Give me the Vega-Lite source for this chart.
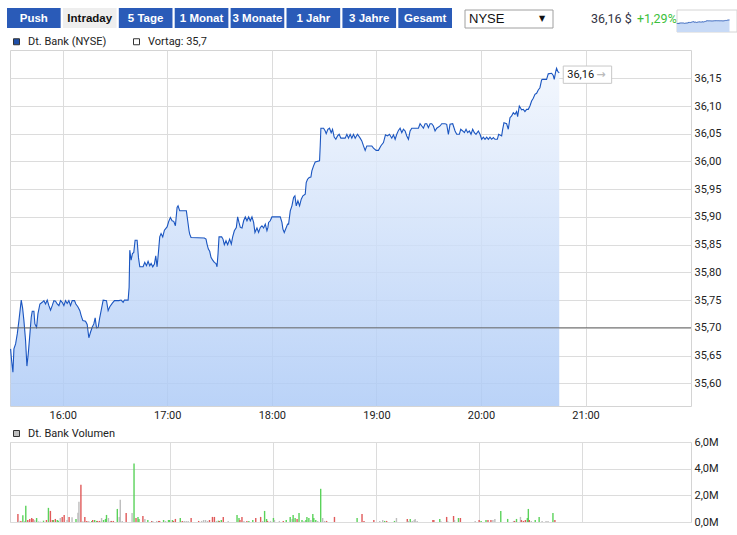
{
  "$schema": "https://vega.github.io/schema/vega-lite/v6.json",
  "background": "white",
  "padding": {"left": 7, "top": 8, "right": 0, "bottom": 0},
  "bounds": "flush",
  "spacing": 22,
  "resolve": {"scale": {"fill": "independent", "color": "independent"}, "legend": {"fill": "independent", "color": "independent"}},
  "datasets": {
    "buttons": [
      {"label": "Push", "state": "off"},
      {"label": "Intraday", "state": "on"},
      {"label": "5 Tage", "state": "off"},
      {"label": "1 Monat", "state": "off"},
      {"label": "3 Monate", "state": "off"},
      {"label": "1 Jahr", "state": "off"},
      {"label": "3 Jahre", "state": "off"},
      {"label": "Gesamt", "state": "off"}
    ],
    "last": [{"t": "2013-05-16T20:44:54", "p": 36.16, "label": "36,16"}],
    "price": [
      {"t":"2013-05-16T15:30:06","p":35.662},{"t":"2013-05-16T15:30:40","p":35.641},{"t":"2013-05-16T15:31:26","p":35.620},{"t":"2013-05-16T15:32:00","p":35.662},{"t":"2013-05-16T15:32:58","p":35.671},{"t":"2013-05-16T15:33:55","p":35.689},{"t":"2013-05-16T15:34:52","p":35.713},{"t":"2013-05-16T15:36:12","p":35.750},{"t":"2013-05-16T15:36:58","p":35.736},{"t":"2013-05-16T15:37:44","p":35.713},{"t":"2013-05-16T15:38:41","p":35.677},{"t":"2013-05-16T15:39:27","p":35.631},{"t":"2013-05-16T15:40:13","p":35.653},{"t":"2013-05-16T15:41:10","p":35.689},{"t":"2013-05-16T15:41:56","p":35.719},{"t":"2013-05-16T15:42:31","p":35.730},{"t":"2013-05-16T15:43:28","p":35.730},{"t":"2013-05-16T15:44:02","p":35.707},{"t":"2013-05-16T15:45:00","p":35.701},{"t":"2013-05-16T15:45:46","p":35.725},{"t":"2013-05-16T15:46:55","p":35.743},{"t":"2013-05-16T15:48:14","p":35.746},{"t":"2013-05-16T15:49:12","p":35.749},{"t":"2013-05-16T15:50:09","p":35.743},{"t":"2013-05-16T15:51:07","p":35.750},{"t":"2013-05-16T15:52:04","p":35.740},{"t":"2013-05-16T15:53:01","p":35.732},{"t":"2013-05-16T15:53:58","p":35.740},{"t":"2013-05-16T15:54:56","p":35.749},{"t":"2013-05-16T15:55:53","p":35.748},{"t":"2013-05-16T15:56:50","p":35.743},{"t":"2013-05-16T15:57:48","p":35.740},{"t":"2013-05-16T15:58:45","p":35.749},{"t":"2013-05-16T15:59:42","p":35.746},{"t":"2013-05-16T16:00:40","p":35.740},{"t":"2013-05-16T16:01:37","p":35.749},{"t":"2013-05-16T16:02:34","p":35.744},{"t":"2013-05-16T16:03:31","p":35.749},{"t":"2013-05-16T16:04:29","p":35.740},{"t":"2013-05-16T16:05:26","p":35.749},{"t":"2013-05-16T16:06:46","p":35.749},{"t":"2013-05-16T16:07:32","p":35.743},{"t":"2013-05-16T16:08:41","p":35.738},{"t":"2013-05-16T16:09:50","p":35.731},{"t":"2013-05-16T16:10:35","p":35.722},{"t":"2013-05-16T16:11:33","p":35.713},{"t":"2013-05-16T16:13:05","p":35.712},{"t":"2013-05-16T16:14:02","p":35.706},{"t":"2013-05-16T16:14:59","p":35.682},{"t":"2013-05-16T16:15:56","p":35.692},{"t":"2013-05-16T16:16:54","p":35.701},{"t":"2013-05-16T16:17:51","p":35.707},{"t":"2013-05-16T16:18:37","p":35.718},{"t":"2013-05-16T16:19:23","p":35.700},{"t":"2013-05-16T16:20:20","p":35.701},{"t":"2013-05-16T16:21:17","p":35.719},{"t":"2013-05-16T16:22:14","p":35.734},{"t":"2013-05-16T16:23:12","p":35.750},{"t":"2013-05-16T16:25:07","p":35.749},{"t":"2013-05-16T16:26:04","p":35.731},{"t":"2013-05-16T16:27:01","p":35.738},{"t":"2013-05-16T16:28:22","p":35.744},{"t":"2013-05-16T16:29:41","p":35.749},{"t":"2013-05-16T16:32:11","p":35.749},{"t":"2013-05-16T16:33:31","p":35.750},{"t":"2013-05-16T16:34:40","p":35.746},{"t":"2013-05-16T16:35:25","p":35.750},{"t":"2013-05-16T16:37:32","p":35.750},{"t":"2013-05-16T16:38:06","p":35.773},{"t":"2013-05-16T16:38:29","p":35.840},{"t":"2013-05-16T16:39:15","p":35.822},{"t":"2013-05-16T16:40:01","p":35.834},{"t":"2013-05-16T16:40:46","p":35.836},{"t":"2013-05-16T16:41:32","p":35.858},{"t":"2013-05-16T16:42:41","p":35.858},{"t":"2013-05-16T16:43:27","p":35.827},{"t":"2013-05-16T16:44:13","p":35.810},{"t":"2013-05-16T16:46:07","p":35.810},{"t":"2013-05-16T16:47:05","p":35.818},{"t":"2013-05-16T16:48:02","p":35.812},{"t":"2013-05-16T16:48:59","p":35.820},{"t":"2013-05-16T16:49:56","p":35.812},{"t":"2013-05-16T16:50:43","p":35.816},{"t":"2013-05-16T16:51:40","p":35.810},{"t":"2013-05-16T16:52:37","p":35.815},{"t":"2013-05-16T16:53:23","p":35.830},{"t":"2013-05-16T16:54:09","p":35.810},{"t":"2013-05-16T16:54:55","p":35.836},{"t":"2013-05-16T16:55:40","p":35.864},{"t":"2013-05-16T16:56:26","p":35.870},{"t":"2013-05-16T16:57:23","p":35.864},{"t":"2013-05-16T16:58:21","p":35.876},{"t":"2013-05-16T16:59:53","p":35.882},{"t":"2013-05-16T17:00:50","p":35.892},{"t":"2013-05-16T17:01:47","p":35.899},{"t":"2013-05-16T17:02:45","p":35.893},{"t":"2013-05-16T17:03:42","p":35.892},{"t":"2013-05-16T17:04:39","p":35.884},{"t":"2013-05-16T17:05:37","p":35.917},{"t":"2013-05-16T17:06:11","p":35.920},{"t":"2013-05-16T17:07:08","p":35.911},{"t":"2013-05-16T17:10:57","p":35.911},{"t":"2013-05-16T17:11:43","p":35.893},{"t":"2013-05-16T17:12:29","p":35.875},{"t":"2013-05-16T17:12:52","p":35.869},{"t":"2013-05-16T17:13:38","p":35.863},{"t":"2013-05-16T17:21:16","p":35.862},{"t":"2013-05-16T17:22:13","p":35.860},{"t":"2013-05-16T17:22:48","p":35.851},{"t":"2013-05-16T17:23:34","p":35.842},{"t":"2013-05-16T17:24:20","p":35.838},{"t":"2013-05-16T17:25:05","p":35.827},{"t":"2013-05-16T17:26:03","p":35.822},{"t":"2013-05-16T17:27:00","p":35.818},{"t":"2013-05-16T17:27:58","p":35.816},{"t":"2013-05-16T17:28:32","p":35.810},{"t":"2013-05-16T17:29:06","p":35.833},{"t":"2013-05-16T17:29:41","p":35.864},{"t":"2013-05-16T17:31:12","p":35.864},{"t":"2013-05-16T17:31:58","p":35.860},{"t":"2013-05-16T17:32:44","p":35.850},{"t":"2013-05-16T17:33:41","p":35.857},{"t":"2013-05-16T17:34:38","p":35.850},{"t":"2013-05-16T17:35:47","p":35.860},{"t":"2013-05-16T17:36:44","p":35.851},{"t":"2013-05-16T17:37:31","p":35.864},{"t":"2013-05-16T17:38:28","p":35.875},{"t":"2013-05-16T17:39:37","p":35.881},{"t":"2013-05-16T17:40:22","p":35.900},{"t":"2013-05-16T17:41:08","p":35.890},{"t":"2013-05-16T17:41:54","p":35.881},{"t":"2013-05-16T17:42:52","p":35.880},{"t":"2013-05-16T17:43:49","p":35.893},{"t":"2013-05-16T17:44:46","p":35.900},{"t":"2013-05-16T17:45:43","p":35.893},{"t":"2013-05-16T17:46:41","p":35.900},{"t":"2013-05-16T17:47:38","p":35.893},{"t":"2013-05-16T17:48:35","p":35.900},{"t":"2013-05-16T17:49:32","p":35.890},{"t":"2013-05-16T17:50:18","p":35.872},{"t":"2013-05-16T17:51:27","p":35.880},{"t":"2013-05-16T17:52:24","p":35.872},{"t":"2013-05-16T17:53:22","p":35.881},{"t":"2013-05-16T17:54:19","p":35.884},{"t":"2013-05-16T17:55:16","p":35.880},{"t":"2013-05-16T17:56:14","p":35.887},{"t":"2013-05-16T17:57:11","p":35.875},{"t":"2013-05-16T17:57:45","p":35.881},{"t":"2013-05-16T17:58:08","p":35.890},{"t":"2013-05-16T17:59:05","p":35.893},{"t":"2013-05-16T18:00:03","p":35.900},{"t":"2013-05-16T18:04:49","p":35.900},{"t":"2013-05-16T18:05:47","p":35.890},{"t":"2013-05-16T18:06:21","p":35.878},{"t":"2013-05-16T18:07:07","p":35.872},{"t":"2013-05-16T18:08:16","p":35.881},{"t":"2013-05-16T18:09:02","p":35.887},{"t":"2013-05-16T18:09:36","p":35.887},{"t":"2013-05-16T18:10:34","p":35.911},{"t":"2013-05-16T18:11:31","p":35.920},{"t":"2013-05-16T18:12:28","p":35.935},{"t":"2013-05-16T18:13:14","p":35.938},{"t":"2013-05-16T18:14:00","p":35.920},{"t":"2013-05-16T18:14:57","p":35.929},{"t":"2013-05-16T18:15:54","p":35.920},{"t":"2013-05-16T18:16:52","p":35.932},{"t":"2013-05-16T18:17:49","p":35.938},{"t":"2013-05-16T18:19:09","p":35.941},{"t":"2013-05-16T18:19:43","p":35.962},{"t":"2013-05-16T18:20:29","p":35.968},{"t":"2013-05-16T18:21:26","p":35.971},{"t":"2013-05-16T18:22:24","p":35.972},{"t":"2013-05-16T18:22:58","p":35.983},{"t":"2013-05-16T18:23:56","p":35.992},{"t":"2013-05-16T18:24:53","p":35.999},{"t":"2013-05-16T18:27:22","p":36.001},{"t":"2013-05-16T18:27:45","p":36.028},{"t":"2013-05-16T18:28:08","p":36.060},{"t":"2013-05-16T18:29:40","p":36.060},{"t":"2013-05-16T18:30:37","p":36.055},{"t":"2013-05-16T18:31:11","p":36.050},{"t":"2013-05-16T18:32:08","p":36.058},{"t":"2013-05-16T18:33:05","p":36.060},{"t":"2013-05-16T18:34:03","p":36.052},{"t":"2013-05-16T18:34:49","p":36.058},{"t":"2013-05-16T18:35:46","p":36.044},{"t":"2013-05-16T18:36:43","p":36.040},{"t":"2013-05-16T18:37:41","p":36.046},{"t":"2013-05-16T18:38:38","p":36.049},{"t":"2013-05-16T18:39:35","p":36.042},{"t":"2013-05-16T18:42:04","p":36.042},{"t":"2013-05-16T18:43:02","p":36.049},{"t":"2013-05-16T18:43:59","p":36.042},{"t":"2013-05-16T18:44:56","p":36.049},{"t":"2013-05-16T18:45:53","p":36.042},{"t":"2013-05-16T18:46:51","p":36.049},{"t":"2013-05-16T18:47:48","p":36.042},{"t":"2013-05-16T18:49:08","p":36.049},{"t":"2013-05-16T18:50:40","p":36.042},{"t":"2013-05-16T18:51:37","p":36.037},{"t":"2013-05-16T18:52:35","p":36.028},{"t":"2013-05-16T18:53:32","p":36.020},{"t":"2013-05-16T18:54:29","p":36.028},{"t":"2013-05-16T18:57:21","p":36.028},{"t":"2013-05-16T18:58:19","p":36.024},{"t":"2013-05-16T18:59:50","p":36.020},{"t":"2013-05-16T19:01:10","p":36.020},{"t":"2013-05-16T19:02:31","p":36.028},{"t":"2013-05-16T19:04:02","p":36.034},{"t":"2013-05-16T19:05:11","p":36.048},{"t":"2013-05-16T19:06:20","p":36.046},{"t":"2013-05-16T19:07:29","p":36.049},{"t":"2013-05-16T19:08:49","p":36.042},{"t":"2013-05-16T19:09:46","p":36.048},{"t":"2013-05-16T19:10:44","p":36.040},{"t":"2013-05-16T19:11:41","p":36.049},{"t":"2013-05-16T19:12:38","p":36.056},{"t":"2013-05-16T19:13:35","p":36.060},{"t":"2013-05-16T19:14:33","p":36.052},{"t":"2013-05-16T19:15:30","p":36.058},{"t":"2013-05-16T19:16:28","p":36.055},{"t":"2013-05-16T19:17:25","p":36.046},{"t":"2013-05-16T19:18:22","p":36.040},{"t":"2013-05-16T19:19:19","p":36.055},{"t":"2013-05-16T19:20:17","p":36.060},{"t":"2013-05-16T19:24:06","p":36.060},{"t":"2013-05-16T19:25:03","p":36.068},{"t":"2013-05-16T19:26:01","p":36.064},{"t":"2013-05-16T19:26:58","p":36.060},{"t":"2013-05-16T19:27:55","p":36.068},{"t":"2013-05-16T19:28:52","p":36.068},{"t":"2013-05-16T19:29:50","p":36.061},{"t":"2013-05-16T19:30:47","p":36.068},{"t":"2013-05-16T19:31:44","p":36.068},{"t":"2013-05-16T19:32:41","p":36.064},{"t":"2013-05-16T19:33:39","p":36.055},{"t":"2013-05-16T19:34:36","p":36.060},{"t":"2013-05-16T19:36:31","p":36.064},{"t":"2013-05-16T19:37:28","p":36.068},{"t":"2013-05-16T19:39:23","p":36.068},{"t":"2013-05-16T19:40:20","p":36.067},{"t":"2013-05-16T19:41:17","p":36.049},{"t":"2013-05-16T19:42:14","p":36.067},{"t":"2013-05-16T19:43:46","p":36.068},{"t":"2013-05-16T19:45:07","p":36.055},{"t":"2013-05-16T19:46:04","p":36.049},{"t":"2013-05-16T19:47:35","p":36.049},{"t":"2013-05-16T19:48:22","p":36.058},{"t":"2013-05-16T19:49:30","p":36.055},{"t":"2013-05-16T19:50:28","p":36.052},{"t":"2013-05-16T19:51:25","p":36.058},{"t":"2013-05-16T19:52:22","p":36.052},{"t":"2013-05-16T19:53:19","p":36.055},{"t":"2013-05-16T19:54:17","p":36.049},{"t":"2013-05-16T19:55:14","p":36.058},{"t":"2013-05-16T19:56:11","p":36.052},{"t":"2013-05-16T19:57:08","p":36.049},{"t":"2013-05-16T19:58:29","p":36.055},{"t":"2013-05-16T19:59:26","p":36.049},{"t":"2013-05-16T20:00:23","p":36.040},{"t":"2013-05-16T20:01:21","p":36.044},{"t":"2013-05-16T20:02:18","p":36.040},{"t":"2013-05-16T20:03:16","p":36.044},{"t":"2013-05-16T20:04:13","p":36.040},{"t":"2013-05-16T20:05:10","p":36.044},{"t":"2013-05-16T20:06:07","p":36.040},{"t":"2013-05-16T20:07:05","p":36.043},{"t":"2013-05-16T20:08:02","p":36.040},{"t":"2013-05-16T20:09:22","p":36.040},{"t":"2013-05-16T20:10:08","p":36.049},{"t":"2013-05-16T20:11:51","p":36.046},{"t":"2013-05-16T20:12:26","p":36.058},{"t":"2013-05-16T20:13:11","p":36.070},{"t":"2013-05-16T20:14:43","p":36.068},{"t":"2013-05-16T20:15:40","p":36.058},{"t":"2013-05-16T20:16:38","p":36.079},{"t":"2013-05-16T20:17:35","p":36.082},{"t":"2013-05-16T20:18:32","p":36.088},{"t":"2013-05-16T20:19:29","p":36.085},{"t":"2013-05-16T20:20:27","p":36.090},{"t":"2013-05-16T20:21:01","p":36.081},{"t":"2013-05-16T20:21:59","p":36.100},{"t":"2013-05-16T20:23:19","p":36.093},{"t":"2013-05-16T20:24:16","p":36.094},{"t":"2013-05-16T20:25:13","p":36.090},{"t":"2013-05-16T20:26:11","p":36.094},{"t":"2013-05-16T20:27:08","p":36.094},{"t":"2013-05-16T20:28:05","p":36.100},{"t":"2013-05-16T20:29:02","p":36.109},{"t":"2013-05-16T20:30:00","p":36.114},{"t":"2013-05-16T20:30:58","p":36.121},{"t":"2013-05-16T20:31:55","p":36.123},{"t":"2013-05-16T20:32:52","p":36.129},{"t":"2013-05-16T20:33:49","p":36.133},{"t":"2013-05-16T20:34:47","p":36.147},{"t":"2013-05-16T20:35:21","p":36.148},{"t":"2013-05-16T20:37:38","p":36.148},{"t":"2013-05-16T20:38:36","p":36.158},{"t":"2013-05-16T20:40:31","p":36.159},{"t":"2013-05-16T20:41:28","p":36.155},{"t":"2013-05-16T20:42:02","p":36.148},{"t":"2013-05-16T20:42:48","p":36.161},{"t":"2013-05-16T20:43:22","p":36.168},{"t":"2013-05-16T20:44:08","p":36.162},{"t":"2013-05-16T20:44:54","p":36.160}
    ],
    "volume": [
      {"t":"2013-05-16T15:31:27","vol":0.60,"dir":"down"},{"t":"2013-05-16T15:32:01","vol":0.10,"dir":"flat"},{"t":"2013-05-16T15:33:10","vol":0.08,"dir":"down"},{"t":"2013-05-16T15:34:19","vol":0.50,"dir":"up"},{"t":"2013-05-16T15:35:28","vol":0.08,"dir":"flat"},{"t":"2013-05-16T15:36:02","vol":1.21,"dir":"up"},{"t":"2013-05-16T15:37:11","vol":0.15,"dir":"down"},{"t":"2013-05-16T15:38:20","vol":0.23,"dir":"down"},{"t":"2013-05-16T15:39:28","vol":0.30,"dir":"down"},{"t":"2013-05-16T15:40:14","vol":0.23,"dir":"down"},{"t":"2013-05-16T15:41:12","vol":0.13,"dir":"flat"},{"t":"2013-05-16T15:42:20","vol":0.30,"dir":"up"},{"t":"2013-05-16T15:43:29","vol":0.05,"dir":"flat"},{"t":"2013-05-16T15:44:38","vol":0.03,"dir":"flat"},{"t":"2013-05-16T15:46:21","vol":0.10,"dir":"up"},{"t":"2013-05-16T15:48:04","vol":0.15,"dir":"down"},{"t":"2013-05-16T15:49:13","vol":1.06,"dir":"up"},{"t":"2013-05-16T15:50:22","vol":0.83,"dir":"down"},{"t":"2013-05-16T15:51:31","vol":0.15,"dir":"down"},{"t":"2013-05-16T15:52:05","vol":0.15,"dir":"up"},{"t":"2013-05-16T15:53:14","vol":0.23,"dir":"down"},{"t":"2013-05-16T15:54:22","vol":0.15,"dir":"up"},{"t":"2013-05-16T15:54:57","vol":0.10,"dir":"up"},{"t":"2013-05-16T15:56:06","vol":0.30,"dir":"flat"},{"t":"2013-05-16T15:57:14","vol":0.38,"dir":"down"},{"t":"2013-05-16T15:58:23","vol":0.53,"dir":"down"},{"t":"2013-05-16T16:00:06","vol":0.15,"dir":"flat"},{"t":"2013-05-16T16:01:15","vol":0.38,"dir":"down"},{"t":"2013-05-16T16:02:58","vol":0.35,"dir":"flat"},{"t":"2013-05-16T16:05:16","vol":0.23,"dir":"up"},{"t":"2013-05-16T16:06:25","vol":0.70,"dir":"flat"},{"t":"2013-05-16T16:06:59","vol":1.51,"dir":"flat"},{"t":"2013-05-16T16:08:08","vol":2.80,"dir":"down"},{"t":"2013-05-16T16:09:16","vol":0.05,"dir":"flat"},{"t":"2013-05-16T16:10:25","vol":0.38,"dir":"down"},{"t":"2013-05-16T16:11:34","vol":0.08,"dir":"down"},{"t":"2013-05-16T16:12:43","vol":0.08,"dir":"flat"},{"t":"2013-05-16T16:14:26","vol":0.08,"dir":"up"},{"t":"2013-05-16T16:15:00","vol":0.15,"dir":"down"},{"t":"2013-05-16T16:16:09","vol":0.15,"dir":"up"},{"t":"2013-05-16T16:17:18","vol":0.08,"dir":"up"},{"t":"2013-05-16T16:17:52","vol":0.08,"dir":"down"},{"t":"2013-05-16T16:19:01","vol":0.08,"dir":"down"},{"t":"2013-05-16T16:20:10","vol":0.30,"dir":"flat"},{"t":"2013-05-16T16:21:19","vol":0.15,"dir":"up"},{"t":"2013-05-16T16:22:27","vol":0.23,"dir":"up"},{"t":"2013-05-16T16:23:02","vol":0.53,"dir":"up"},{"t":"2013-05-16T16:24:10","vol":0.30,"dir":"flat"},{"t":"2013-05-16T16:25:19","vol":0.08,"dir":"flat"},{"t":"2013-05-16T16:25:54","vol":0.08,"dir":"down"},{"t":"2013-05-16T16:27:02","vol":0.08,"dir":"down"},{"t":"2013-05-16T16:29:20","vol":0.98,"dir":"up"},{"t":"2013-05-16T16:30:29","vol":0.38,"dir":"flat"},{"t":"2013-05-16T16:31:03","vol":1.66,"dir":"flat"},{"t":"2013-05-16T16:32:12","vol":0.08,"dir":"flat"},{"t":"2013-05-16T16:34:29","vol":0.68,"dir":"down"},{"t":"2013-05-16T16:37:56","vol":0.68,"dir":"flat"},{"t":"2013-05-16T16:39:04","vol":4.38,"dir":"up"},{"t":"2013-05-16T16:40:13","vol":0.30,"dir":"down"},{"t":"2013-05-16T16:41:22","vol":0.38,"dir":"up"},{"t":"2013-05-16T16:41:56","vol":0.23,"dir":"up"},{"t":"2013-05-16T16:44:14","vol":0.45,"dir":"down"},{"t":"2013-05-16T16:45:23","vol":0.23,"dir":"flat"},{"t":"2013-05-16T16:47:06","vol":0.15,"dir":"up"},{"t":"2013-05-16T16:49:23","vol":0.08,"dir":"down"},{"t":"2013-05-16T16:49:58","vol":0.08,"dir":"flat"},{"t":"2013-05-16T16:52:15","vol":0.08,"dir":"flat"},{"t":"2013-05-16T16:53:24","vol":0.08,"dir":"down"},{"t":"2013-05-16T16:53:58","vol":0.08,"dir":"down"},{"t":"2013-05-16T16:56:16","vol":0.15,"dir":"up"},{"t":"2013-05-16T16:57:25","vol":0.08,"dir":"flat"},{"t":"2013-05-16T16:59:08","vol":0.15,"dir":"up"},{"t":"2013-05-16T16:59:42","vol":0.15,"dir":"up"},{"t":"2013-05-16T17:01:25","vol":0.15,"dir":"up"},{"t":"2013-05-16T17:02:00","vol":0.08,"dir":"down"},{"t":"2013-05-16T17:03:09","vol":0.23,"dir":"down"},{"t":"2013-05-16T17:06:00","vol":0.30,"dir":"up"},{"t":"2013-05-16T17:07:09","vol":0.08,"dir":"down"},{"t":"2013-05-16T17:08:18","vol":0.08,"dir":"flat"},{"t":"2013-05-16T17:09:27","vol":0.08,"dir":"flat"},{"t":"2013-05-16T17:10:36","vol":0.08,"dir":"flat"},{"t":"2013-05-16T17:12:19","vol":0.30,"dir":"down"},
      {"t":"2013-05-16T17:16:42","vol":0.08,"dir":"down"},{"t":"2013-05-16T17:18:25","vol":0.08,"dir":"flat"},{"t":"2013-05-16T17:19:34","vol":0.15,"dir":"flat"},{"t":"2013-05-16T17:20:43","vol":0.15,"dir":"flat"},{"t":"2013-05-16T17:21:52","vol":0.08,"dir":"flat"},{"t":"2013-05-16T17:23:00","vol":0.15,"dir":"down"},{"t":"2013-05-16T17:24:44","vol":0.38,"dir":"down"},{"t":"2013-05-16T17:25:52","vol":0.38,"dir":"down"},{"t":"2013-05-16T17:27:01","vol":0.08,"dir":"flat"},{"t":"2013-05-16T17:28:10","vol":0.10,"dir":"up"},{"t":"2013-05-16T17:28:44","vol":0.08,"dir":"down"},{"t":"2013-05-16T17:29:53","vol":0.15,"dir":"up"},{"t":"2013-05-16T17:31:02","vol":0.38,"dir":"down"},{"t":"2013-05-16T17:33:54","vol":0.08,"dir":"flat"},{"t":"2013-05-16T17:39:03","vol":0.53,"dir":"up"},{"t":"2013-05-16T17:40:12","vol":0.30,"dir":"up"},{"t":"2013-05-16T17:40:46","vol":0.15,"dir":"down"},{"t":"2013-05-16T17:41:55","vol":0.38,"dir":"down"},{"t":"2013-05-16T17:43:04","vol":0.08,"dir":"flat"},{"t":"2013-05-16T17:44:47","vol":0.08,"dir":"down"},{"t":"2013-05-16T17:45:56","vol":0.08,"dir":"up"},{"t":"2013-05-16T17:48:13","vol":0.15,"dir":"up"},{"t":"2013-05-16T17:49:57","vol":0.30,"dir":"down"},{"t":"2013-05-16T17:52:48","vol":0.38,"dir":"down"},{"t":"2013-05-16T17:53:57","vol":0.08,"dir":"flat"},{"t":"2013-05-16T17:55:06","vol":0.83,"dir":"up"},{"t":"2013-05-16T17:56:15","vol":0.23,"dir":"up"},{"t":"2013-05-16T17:56:49","vol":0.08,"dir":"down"},{"t":"2013-05-16T17:58:32","vol":0.08,"dir":"flat"},{"t":"2013-05-16T18:00:15","vol":0.30,"dir":"up"},{"t":"2013-05-16T18:00:50","vol":0.15,"dir":"flat"},{"t":"2013-05-16T18:03:42","vol":0.08,"dir":"flat"},{"t":"2013-05-16T18:05:59","vol":0.08,"dir":"down"},{"t":"2013-05-16T18:07:42","vol":0.15,"dir":"up"},{"t":"2013-05-16T18:10:00","vol":0.38,"dir":"up"},{"t":"2013-05-16T18:11:09","vol":0.23,"dir":"flat"},{"t":"2013-05-16T18:11:43","vol":0.53,"dir":"up"},{"t":"2013-05-16T18:12:52","vol":0.30,"dir":"up"},{"t":"2013-05-16T18:14:01","vol":0.23,"dir":"down"},{"t":"2013-05-16T18:15:09","vol":0.68,"dir":"up"},{"t":"2013-05-16T18:16:53","vol":0.15,"dir":"up"},{"t":"2013-05-16T18:18:01","vol":0.08,"dir":"flat"},{"t":"2013-05-16T18:19:10","vol":0.15,"dir":"up"},{"t":"2013-05-16T18:19:45","vol":0.38,"dir":"up"},{"t":"2013-05-16T18:20:53","vol":0.30,"dir":"up"},{"t":"2013-05-16T18:22:02","vol":0.15,"dir":"flat"},{"t":"2013-05-16T18:23:11","vol":0.60,"dir":"up"},{"t":"2013-05-16T18:23:45","vol":0.30,"dir":"up"},{"t":"2013-05-16T18:24:54","vol":0.15,"dir":"up"},{"t":"2013-05-16T18:26:03","vol":0.08,"dir":"flat"},{"t":"2013-05-16T18:27:46","vol":2.49,"dir":"up"},{"t":"2013-05-16T18:28:55","vol":0.30,"dir":"flat"},{"t":"2013-05-16T18:30:03","vol":0.08,"dir":"flat"},{"t":"2013-05-16T18:31:12","vol":0.08,"dir":"down"},{"t":"2013-05-16T18:35:47","vol":0.38,"dir":"down"},{"t":"2013-05-16T18:48:58","vol":0.30,"dir":"up"},{"t":"2013-05-16T18:51:50","vol":0.60,"dir":"down"},{"t":"2013-05-16T18:52:59","vol":0.08,"dir":"down"},{"t":"2013-05-16T18:58:43","vol":0.15,"dir":"down"},{"t":"2013-05-16T19:02:09","vol":0.08,"dir":"flat"},
      {"t":"2013-05-16T19:03:52","vol":0.15,"dir":"flat"},{"t":"2013-05-16T19:05:01","vol":0.08,"dir":"up"},{"t":"2013-05-16T19:06:10","vol":0.08,"dir":"down"},{"t":"2013-05-16T19:10:45","vol":0.08,"dir":"up"},{"t":"2013-05-16T19:11:53","vol":0.30,"dir":"flat"},{"t":"2013-05-16T19:18:12","vol":0.23,"dir":"down"},{"t":"2013-05-16T19:18:46","vol":0.08,"dir":"flat"},{"t":"2013-05-16T19:19:55","vol":0.23,"dir":"up"},{"t":"2013-05-16T19:21:04","vol":0.08,"dir":"flat"},{"t":"2013-05-16T19:22:12","vol":0.15,"dir":"flat"},{"t":"2013-05-16T19:22:47","vol":0.23,"dir":"flat"},{"t":"2013-05-16T19:23:56","vol":0.08,"dir":"flat"},{"t":"2013-05-16T19:33:06","vol":0.15,"dir":"down"},{"t":"2013-05-16T19:33:40","vol":0.15,"dir":"down"},{"t":"2013-05-16T19:37:06","vol":0.23,"dir":"up"},{"t":"2013-05-16T19:37:41","vol":0.08,"dir":"flat"},{"t":"2013-05-16T19:41:07","vol":0.38,"dir":"down"},{"t":"2013-05-16T19:41:41","vol":0.08,"dir":"flat"},{"t":"2013-05-16T19:45:08","vol":0.45,"dir":"down"},{"t":"2013-05-16T19:45:42","vol":0.15,"dir":"flat"},{"t":"2013-05-16T19:48:00","vol":0.30,"dir":"up"},{"t":"2013-05-16T19:49:08","vol":0.30,"dir":"down"},{"t":"2013-05-16T19:57:44","vol":0.08,"dir":"flat"},{"t":"2013-05-16T20:00:02","vol":0.15,"dir":"down"},{"t":"2013-05-16T20:01:11","vol":0.08,"dir":"up"},{"t":"2013-05-16T20:04:02","vol":0.15,"dir":"up"},{"t":"2013-05-16T20:05:11","vol":0.15,"dir":"down"},{"t":"2013-05-16T20:06:54","vol":0.15,"dir":"down"},{"t":"2013-05-16T20:08:03","vol":0.15,"dir":"flat"},{"t":"2013-05-16T20:09:12","vol":0.23,"dir":"flat"},{"t":"2013-05-16T20:12:38","vol":0.83,"dir":"up"},{"t":"2013-05-16T20:16:39","vol":0.23,"dir":"up"},{"t":"2013-05-16T20:20:05","vol":0.08,"dir":"flat"},{"t":"2013-05-16T20:20:40","vol":0.08,"dir":"down"},{"t":"2013-05-16T20:21:48","vol":0.23,"dir":"up"},{"t":"2013-05-16T20:24:06","vol":0.38,"dir":"flat"},{"t":"2013-05-16T20:24:40","vol":0.15,"dir":"down"},{"t":"2013-05-16T20:25:49","vol":0.08,"dir":"down"},{"t":"2013-05-16T20:26:58","vol":0.15,"dir":"down"},{"t":"2013-05-16T20:28:07","vol":0.30,"dir":"up"},{"t":"2013-05-16T20:28:41","vol":0.98,"dir":"up"},{"t":"2013-05-16T20:29:15","vol":0.15,"dir":"down"},{"t":"2013-05-16T20:30:24","vol":0.08,"dir":"flat"},{"t":"2013-05-16T20:32:42","vol":0.15,"dir":"up"},{"t":"2013-05-16T20:34:59","vol":0.38,"dir":"up"},{"t":"2013-05-16T20:36:42","vol":0.08,"dir":"flat"},{"t":"2013-05-16T20:39:00","vol":0.08,"dir":"flat"},{"t":"2013-05-16T20:40:09","vol":0.08,"dir":"flat"},{"t":"2013-05-16T20:43:01","vol":0.68,"dir":"up"},{"t":"2013-05-16T20:44:09","vol":0.15,"dir":"down"}
    ]
  },
  "vconcat": [
    {
      "width": 681,
      "height": 20,
      "view": {"stroke": null},
      "resolve": {"scale": {"x": "independent", "y": "independent"}},
      "layer": [
        {
          "data": {"name": "buttons"},
          "encoding": {
            "x": {"field": "label", "type": "nominal", "sort": null, "axis": null,
                  "scale": {"range": [-3, 442], "paddingInner": 0.04, "paddingOuter": 0}}
          },
          "layer": [
            {"mark": {"type": "bar"},
             "encoding": {"color": {"condition": {"test": "datum.state === 'on'", "value": "#eeeeee"}, "value": "#2a5bb8"}}},
            {"mark": {"type": "text", "font": "Liberation Sans", "fontWeight": "bold", "fontSize": 11.5, "dy": 0.5},
             "encoding": {"text": {"field": "label"},
                          "color": {"condition": {"test": "datum.state === 'on'", "value": "#111111"}, "value": "#ffffff"}}}
          ]
        },
        {
          "data": {"values": [{"exchange": "NYSE"}]},
          "encoding": {
            "x": {"field": "exchange", "type": "nominal", "axis": null,
                  "scale": {"range": [455, 543], "paddingInner": 0, "paddingOuter": 0}}
          },
          "layer": [
            {"mark": {"type": "bar", "fill": "#ffffff", "stroke": "#a0a0a0", "strokeWidth": 1},
             "encoding": {"y": {"field": "exchange", "type": "nominal", "axis": null,
                                "scale": {"range": [2, 20], "paddingInner": 0, "paddingOuter": 0}}}},
            {"mark": {"type": "text", "align": "left", "dx": 4, "dy": 1, "font": "Liberation Sans", "fontSize": 13, "color": "#111111"},
             "encoding": {"x": {"field": "exchange", "type": "nominal", "bandPosition": 0, "axis": null},
                          "text": {"field": "exchange"}}},
            {"mark": {"type": "text", "align": "center", "dx": -11, "dy": 1, "font": "DejaVu Sans", "fontSize": 8, "color": "#111111", "text": "▼"},
             "encoding": {"x": {"field": "exchange", "type": "nominal", "bandPosition": 1, "axis": null}}}
          ]
        },
        {
          "data": {"values": [{"kind": "last", "txt": "36,16 $"}, {"kind": "change", "txt": "+1,29%"}]},
          "mark": {"type": "text", "align": "left", "font": "Roboto", "fontSize": 12.5, "dy": 1},
          "encoding": {
            "x": {"field": "kind", "type": "nominal", "sort": null, "bandPosition": 0, "axis": null,
                  "scale": {"range": [558, 650], "paddingInner": 0, "paddingOuter": 0}},
            "text": {"field": "txt"},
            "color": {"condition": {"test": "datum.kind === 'change'", "value": "#3cbf3c"}, "value": "#333344"}
          }
        },
        {
          "data": {"values": [{"box": "mini"}]},
          "mark": {"type": "bar", "fill": "#ffffff", "stroke": "#d4d4d4", "strokeWidth": 1},
          "encoding": {
            "x": {"field": "box", "type": "nominal", "axis": null,
                  "scale": {"range": [667, 727], "paddingInner": 0, "paddingOuter": 0}},
            "y": {"field": "box", "type": "nominal", "axis": null,
                  "scale": {"range": [2, 24], "paddingInner": 0, "paddingOuter": 0}}
          }
        },
        {
          "data": {"name": "price"},
          "encoding": {
            "x": {"field": "t", "type": "temporal", "axis": null,
                  "scale": {"domain": [{"year": 2013, "month": 5, "date": 16, "hours": 15, "minutes": 30},
                                       {"year": 2013, "month": 5, "date": 16, "hours": 21, "minutes": 30}],
                            "range": [667, 727]}},
            "y": {"field": "p", "type": "quantitative", "axis": null,
                  "scale": {"domain": [34.48, 37.56], "range": [24, 2], "zero": false, "nice": false}}
          },
          "layer": [
            {"mark": {"type": "area", "color": "#c8daf6"}, "encoding": {"y2": {"datum": 34.48}}},
            {"mark": {"type": "line", "color": "#2457b8", "strokeWidth": 1}}
          ]
        }
      ]
    },
    {
      "bounds": "flush",
      "spacing": 36,
      "resolve": {"scale": {"fill": "independent", "color": "independent"}, "legend": {"fill": "independent", "color": "independent"}},
      "vconcat": [
        {
          "width": 681,
          "height": 356,
          "layer": [
            {
              "data": {"name": "price"},
              "encoding": {
                "x": {"field": "t", "type": "temporal", "title": null,
                      "scale": {"domain": [{"year": 2013, "month": 5, "date": 16, "hours": 15, "minutes": 29, "seconds": 45},
                                           {"year": 2013, "month": 5, "date": 16, "hours": 22, "minutes": 0, "seconds": 30}]},
                      "axis": {"values": [{"year": 2013, "month": 5, "date": 16, "hours": 16},
                                          {"year": 2013, "month": 5, "date": 16, "hours": 17},
                                          {"year": 2013, "month": 5, "date": 16, "hours": 18},
                                          {"year": 2013, "month": 5, "date": 16, "hours": 19},
                                          {"year": 2013, "month": 5, "date": 16, "hours": 20},
                                          {"year": 2013, "month": 5, "date": 16, "hours": 21}],
                               "format": "%H:%M", "grid": true, "ticks": false, "domain": false,
                               "labelPadding": 3, "labelOverlap": false, "labelFlush": false}},
                "y": {"field": "p", "type": "quantitative", "title": null,
                      "scale": {"domain": [35.559, 36.201], "zero": false, "nice": false},
                      "axis": {"orient": "right", "values": [35.6, 35.65, 35.7, 35.75, 35.8, 35.85, 35.9, 35.95, 36.0, 36.05, 36.1, 36.15],
                               "labelExpr": "replace(format(datum.value, '.2f'), '.', ',')",
                               "grid": true, "ticks": false, "domain": false, "labelPadding": 3, "labelOverlap": false}}
              },
              "layer": [
                {"mark": {"type": "area", "opacity": 0.82, "clip": true,
                          "color": {"gradient": "linear", "x1": 0, "y1": 1, "x2": 0, "y2": 0,
                                    "stops": [{"offset": 0, "color": "#abc9f6"}, {"offset": 1, "color": "#f0f5fd"}]}},
                 "encoding": {"y2": {"datum": 35.559}}},
                {"mark": {"type": "line", "color": "#1a55c0", "strokeWidth": 1.1}}
              ]
            },
            {
              "data": {"values": [{"prev": 35.7}]},
              "mark": {"type": "rule", "color": "#666666", "strokeWidth": 1},
              "encoding": {"y": {"field": "prev", "type": "quantitative", "title": null,
                                 "scale": {"domain": [35.559, 36.201], "zero": false, "nice": false},
                                 "axis": {"orient": "right", "values": [35.6, 35.65, 35.7, 35.75, 35.8, 35.85, 35.9, 35.95, 36.0, 36.05, 36.1, 36.15],
                                          "labelExpr": "replace(format(datum.value, '.2f'), '.', ',')",
                                          "grid": true, "ticks": false, "domain": false, "labelPadding": 3, "labelOverlap": false}}}
            },
            {
              "data": {"name": "last"},
              "encoding": {
                "x": {"field": "t", "type": "temporal", "title": null,
                      "scale": {"domain": [{"year": 2013, "month": 5, "date": 16, "hours": 15, "minutes": 29, "seconds": 45},
                                           {"year": 2013, "month": 5, "date": 16, "hours": 22, "minutes": 0, "seconds": 30}]},
                      "axis": {"values": [{"year": 2013, "month": 5, "date": 16, "hours": 16},
                                          {"year": 2013, "month": 5, "date": 16, "hours": 17},
                                          {"year": 2013, "month": 5, "date": 16, "hours": 18},
                                          {"year": 2013, "month": 5, "date": 16, "hours": 19},
                                          {"year": 2013, "month": 5, "date": 16, "hours": 20},
                                          {"year": 2013, "month": 5, "date": 16, "hours": 21}],
                               "format": "%H:%M", "grid": true, "ticks": false, "domain": false,
                               "labelPadding": 3, "labelOverlap": false, "labelFlush": false}},
                "y": {"field": "p", "type": "quantitative", "title": null,
                      "scale": {"domain": [35.559, 36.201], "zero": false, "nice": false},
                      "axis": {"orient": "right", "values": [35.6, 35.65, 35.7, 35.75, 35.8, 35.85, 35.9, 35.95, 36.0, 36.05, 36.1, 36.15],
                               "labelExpr": "replace(format(datum.value, '.2f'), '.', ',')",
                               "grid": true, "ticks": false, "domain": false, "labelPadding": 3, "labelOverlap": false}}
              },
              "layer": [
                {"mark": {"type": "point", "shape": "M0.4,-0.67H5.24V1.06H0.4Z", "size": 400, "filled": true,
                          "fill": "#ffffff", "stroke": "#c8c8c8", "strokeWidth": 1, "opacity": 1}},
                {"mark": {"type": "text", "align": "left", "dx": 8, "dy": 2.5, "font": "Roboto", "fontSize": 11, "color": "#111111"},
                 "encoding": {"text": {"field": "label"}}},
                {"mark": {"type": "text", "align": "left", "dx": 37, "dy": 2, "font": "DejaVu Sans", "fontWeight": "bold", "fontSize": 11, "color": "#bbbbbb", "text": "→"}}
              ]
            },
            {
              "data": {"values": [{"series": "Dt. Bank (NYSE)"}, {"series": "Vortag: 35,7"}]},
              "mark": {"type": "square", "opacity": 0},
              "encoding": {
                "fill": {"field": "series", "type": "nominal", "sort": null,
                         "scale": {"domain": ["Dt. Bank (NYSE)", "Vortag: 35,7"], "range": ["#1f4fa8", "#ffffff"]},
                         "legend": {"title": null, "orient": "none", "legendX": 1, "legendY": -14, "direction": "horizontal",
                                    "symbolType": "square", "symbolSize": 36, "symbolStrokeColor": "#333333", "symbolStrokeWidth": 1,
                                    "symbolOpacity": 1, "labelFont": "Roboto", "labelFontSize": 11, "labelColor": "#222222",
                                    "labelOffset": 6, "columnPadding": 24, "padding": 0}}
              }
            }
          ]
        },
        {
          "width": 681,
          "height": 80,
          "layer": [
            {
              "data": {"name": "volume"},
              "mark": {"type": "bar", "size": 1.4},
              "encoding": {
                "x": {"field": "t", "type": "temporal", "title": null,
                      "scale": {"domain": [{"year": 2013, "month": 5, "date": 16, "hours": 15, "minutes": 29, "seconds": 45},
                                           {"year": 2013, "month": 5, "date": 16, "hours": 22, "minutes": 0, "seconds": 30}]},
                      "axis": {"values": [{"year": 2013, "month": 5, "date": 16, "hours": 16},
                                          {"year": 2013, "month": 5, "date": 16, "hours": 17},
                                          {"year": 2013, "month": 5, "date": 16, "hours": 18},
                                          {"year": 2013, "month": 5, "date": 16, "hours": 19},
                                          {"year": 2013, "month": 5, "date": 16, "hours": 20},
                                          {"year": 2013, "month": 5, "date": 16, "hours": 21}],
                               "labels": false, "grid": true, "ticks": false, "domain": false}},
                "y": {"field": "vol", "type": "quantitative", "title": null,
                      "scale": {"domain": [0, 6], "nice": false},
                      "axis": {"orient": "right", "values": [0, 2, 4, 6],
                               "labelExpr": "replace(format(datum.value, '.1f'), '.', ',') + 'M'",
                               "grid": true, "ticks": false, "domain": false, "labelPadding": 3, "labelOverlap": false}},
                "color": {"field": "dir", "type": "nominal",
                          "scale": {"domain": ["up", "down", "flat"], "range": ["#5ad25a", "#e05a5a", "#bdbdbd"]},
                          "legend": null}
              }
            },
            {
              "data": {"values": [{"series": "Dt. Bank Volumen"}]},
              "mark": {"type": "square", "opacity": 0},
              "encoding": {
                "fill": {"field": "series", "type": "nominal",
                         "scale": {"domain": ["Dt. Bank Volumen"], "range": ["#c0c0c0"]},
                         "legend": {"title": null, "orient": "none", "legendX": 1, "legendY": -14, "direction": "horizontal",
                                    "symbolType": "square", "symbolSize": 36, "symbolStrokeColor": "#333333", "symbolStrokeWidth": 1,
                                    "symbolOpacity": 1, "labelFont": "Roboto", "labelFontSize": 11, "labelColor": "#222222",
                                    "labelOffset": 6, "padding": 0}}
              }
            }
          ]
        }
      ]
    }
  ],
  "config": {
    "view": {"stroke": "#d4d4d4"},
    "axis": {"gridColor": "#dcdcdc", "gridWidth": 1, "labelFont": "Roboto", "labelFontSize": 11, "labelColor": "#222222"},
    "font": "Roboto"
  }
}
